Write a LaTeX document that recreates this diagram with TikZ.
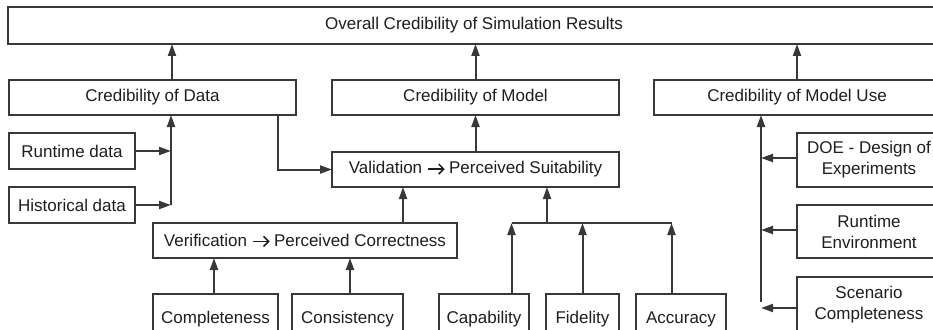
\documentclass[tikz,border=0pt]{standalone}
\usepackage{fontspec}
\setmainfont{Liberation Sans}
\usetikzlibrary{arrows.meta}
\definecolor{ln}{HTML}{383838}
\definecolor{tx}{HTML}{1E1E1E}
\newcommand\txtarrow{\tikz[baseline=0pt,x=1pt,y=1pt,line width=1.5pt,line cap=butt]{%
  \draw[tx] (0,4.8) -- (15.5,4.8);
  \draw[tx,line join=miter] (11,9.8) -- (16,4.8) -- (11,-0.2);}}
\begin{document}
\begin{tikzpicture}[x=1pt,y=-1pt,
  box/.style={draw=ln,line width=2pt,rectangle,inner sep=0pt,outer sep=0pt,align=center,
    text=tx,font=\fontsize{17}{21}\selectfont},
  conn/.style={draw=ln,line width=2pt},
  arr/.style={conn,-{Triangle[length=12pt,width=8pt]}}]
\useasboundingbox (0,0) rectangle (933,329);
\clip (0,0) rectangle (933,329);
\fill[white] (0,0) rectangle (933,329);
% top level
\node[box,minimum width=932,minimum height=37] (top) at (474,25.5) {Overall Credibility of Simulation Results};
\node[box,minimum width=287,minimum height=35] (cd) at (152.5,97.5) {Credibility of Data};
\node[box,minimum width=287,minimum height=35] (cm) at (475.5,97.5) {Credibility of Model};
\node[box,minimum width=286,minimum height=35] (cu) at (797,97.5) {Credibility of Model Use};
% data
\node[box,minimum width=126,minimum height=36] (rd) at (72,151) {Runtime data};
\node[box,minimum width=126,minimum height=36] (hd) at (72,205) {Historical data};
% model
\node[box,minimum width=287,minimum height=35] (val) at (475.5,169.5) {Validation \txtarrow{} Perceived Suitability};
\node[box,minimum width=304,minimum height=35] (ver) at (305,240.5) {Verification \txtarrow{} Perceived Correctness};
\node[box,minimum width=125,minimum height=50] (comp) at (215.5,319) {Completeness};
\node[box,minimum width=111,minimum height=50] (cons) at (347.5,319) {Consistency};
\node[box,minimum width=90,minimum height=50] (cap) at (484,319) {Capability};
\node[box,minimum width=73,minimum height=50] (fid) at (582.5,319) {Fidelity};
\node[box,minimum width=90,minimum height=50] (acc) at (681,319) {Accuracy};
% model use
\node[box,minimum width=144,minimum height=54] (doe) at (869,160) {DOE - Design of\\Experiments};
\node[box,minimum width=144,minimum height=53] (rte) at (869,231.5) {Runtime\\Environment};
\node[box,minimum width=144,minimum height=56] (sc) at (869,305) {Scenario\\Completeness};
% connectors to top
\draw[arr] ([xshift=19.5]cd.north) -- ([xshift=19.5]cd.north |- top.south);
\draw[arr] (cm.north) -- (cm.north |- top.south);
\draw[arr] (cu.north) -- (cu.north |- top.south);
% data
\coordinate (dj) at (171,205);
\draw[arr] (dj) -- (dj |- cd.south);
\draw[arr] (rd.east) -- (rd.east -| dj);
\draw[arr] (hd.east) -- (hd.east -| dj);
\draw[arr] ([xshift=125.5]cd.south) |- (val.west);
% model
\draw[arr] (val.north) -- (val.north |- cm.south);
\draw[arr] ([xshift=98]ver.north) -- ([xshift=98]ver.north |- val.south);
\draw[arr] ([xshift=-1.5]comp.north) -- ([xshift=-1.5]comp.north |- ver.south);
\draw[arr] ([xshift=2.5]cons.north) -- ([xshift=2.5]cons.north |- ver.south);
\coordinate (bus) at (547,223);
\draw[conn] ([xshift=27.5]cap.north |- bus) -- ([xshift=-9.5]acc.north |- bus);
\draw[arr] (bus) -- (bus |- val.south);
\draw[arr] ([xshift=27.5]cap.north) -- ([xshift=27.5]cap.north |- bus);
\draw[arr] (fid.north) -- (fid.north |- bus);
\draw[arr] ([xshift=-9.5]acc.north) -- ([xshift=-9.5]acc.north |- bus);
% model use
\coordinate (uj) at (761,302);
\draw[arr] (uj) -- (uj |- cu.south);
\draw[arr] ([yshift=2]doe.west) -- ([yshift=2]doe.west -| uj);
\draw[arr] ([yshift=1.5]rte.west) -- ([yshift=1.5]rte.west -| uj);
\draw[arr] ([yshift=-3]sc.west) -- ([yshift=-3]sc.west -| uj);
\end{tikzpicture}
\end{document}
